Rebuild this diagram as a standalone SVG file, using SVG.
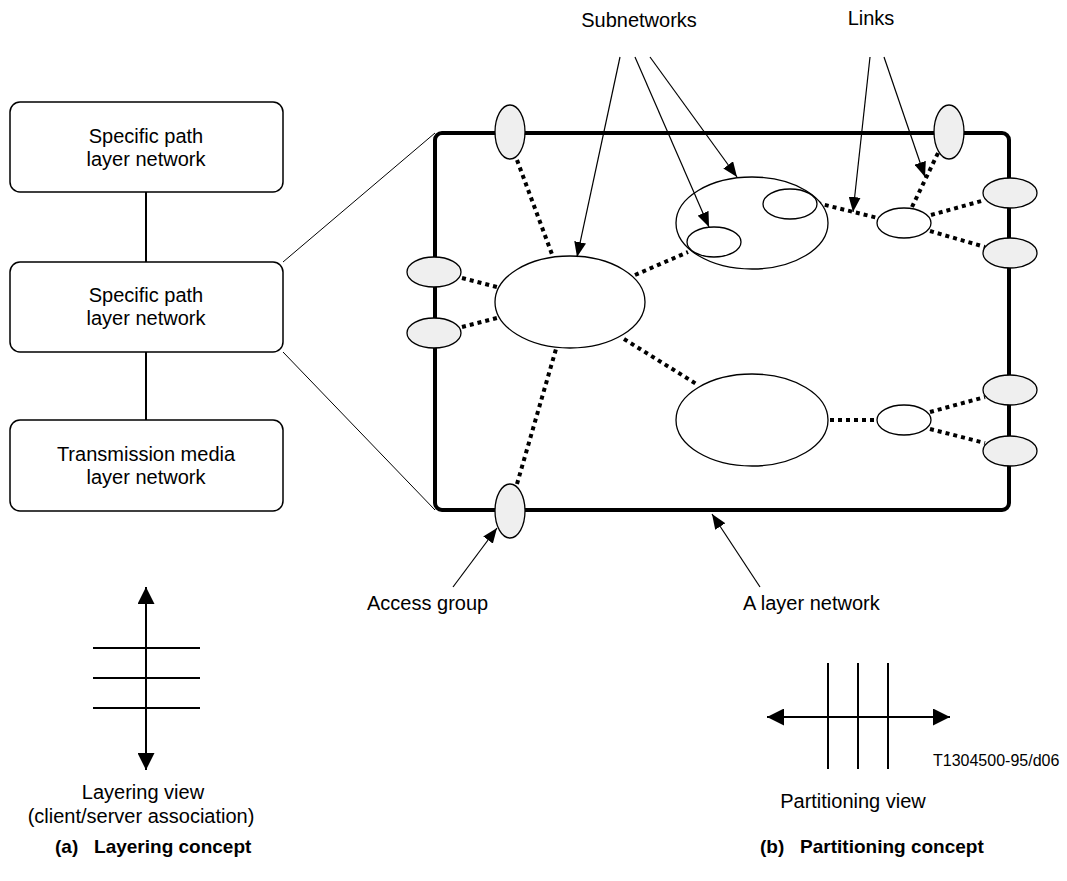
<svg xmlns="http://www.w3.org/2000/svg" width="1067" height="881" viewBox="0 0 1067 881">
<defs>
<style>
text{font-family:"Liberation Sans",Arial,sans-serif;font-size:20px;fill:#000}
.c{text-anchor:middle}
.b{font-weight:bold;font-size:19px}
.box{fill:#fff;stroke:#000;stroke-width:1.5}
.thin{stroke:#000;stroke-width:1;fill:none}
.ln{stroke:#000;stroke-width:2;fill:none}
.dot{stroke:#000;stroke-width:4;stroke-dasharray:4 4;fill:none}
.sub{fill:#fff;stroke:#000;stroke-width:1.3}
.acc{fill:#efefef;stroke:#000;stroke-width:1.3}
.arr{stroke:#000;stroke-width:1.2;fill:none;marker-end:url(#ah)}
.dbl{stroke:#000;stroke-width:2;fill:none;marker-start:url(#bh);marker-end:url(#bh)}
</style>
<marker id="ah" markerUnits="userSpaceOnUse" markerWidth="15" markerHeight="12" refX="15" refY="6" orient="auto">
<path d="M0,0 L15,6 L0,12 z" fill="#000"/>
</marker>
<marker id="bh" markerUnits="userSpaceOnUse" markerWidth="17" markerHeight="17" refX="17" refY="8.5" orient="auto-start-reverse">
<path d="M0,0 L17,8.5 L0,17 z" fill="#000"/>
</marker>
</defs>

<g id="layer-box-1"><rect class="box" x="10" y="102" width="273" height="90" rx="10"/><text class="c" x="146" y="143">Specific path</text><text class="c" x="146" y="166">layer network</text></g>
<g id="layer-box-2"><rect class="box" x="10" y="262" width="273" height="90" rx="10"/><text class="c" x="146" y="302">Specific path</text><text class="c" x="146" y="325">layer network</text></g>
<g id="layer-box-3"><rect class="box" x="10" y="420" width="273" height="91" rx="10"/><text class="c" x="146" y="461">Transmission media</text><text class="c" x="146" y="484">layer network</text></g>

<g id="connectors">
<line class="ln" x1="146" y1="192" x2="146" y2="262"/>
<line class="ln" x1="146" y1="352" x2="146" y2="420"/>
<line class="thin" x1="283" y1="262" x2="435" y2="133"/>
<line class="thin" x1="283" y1="352" x2="435" y2="510"/>
</g>

<g id="layer-network"><rect x="435" y="133" width="574" height="377" rx="7" fill="none" stroke="#000" stroke-width="4"/></g>

<g id="links">
<line class="dot" x1="517" y1="160" x2="553" y2="257"/>
<line class="dot" x1="462" y1="278" x2="497" y2="287"/>
<line class="dot" x1="462" y1="327" x2="497" y2="318"/>
<line class="dot" x1="517" y1="484" x2="556" y2="349"/>
<line class="dot" x1="635" y1="275" x2="688" y2="252"/>
<line class="dot" x1="738" y1="232" x2="767" y2="213"/>
<line class="dot" x1="817" y1="203" x2="878" y2="218"/>
<line class="dot" x1="938" y1="153" x2="912" y2="207"/>
<line class="dot" x1="931" y1="215" x2="985" y2="200"/>
<line class="dot" x1="930" y1="231" x2="985" y2="247"/>
<line class="dot" x1="624" y1="339" x2="698" y2="385"/>
<line class="dot" x1="830" y1="420" x2="877" y2="420"/>
<line class="dot" x1="930" y1="412" x2="985" y2="397"/>
<line class="dot" x1="930" y1="429" x2="985" y2="443"/>
</g>

<g id="subnetworks">
<ellipse class="sub" cx="570" cy="302" rx="75" ry="46"/>
<ellipse class="sub" cx="752" cy="223" rx="76" ry="46"/>
<ellipse class="sub" cx="714" cy="242" rx="27" ry="15"/>
<ellipse class="sub" cx="790" cy="204" rx="27" ry="15"/>
<ellipse class="sub" cx="752" cy="420" rx="76" ry="46"/>
<ellipse class="sub" cx="904" cy="223" rx="27" ry="15"/>
<ellipse class="sub" cx="904" cy="420" rx="27" ry="15"/>
</g>

<g id="access-groups">
<ellipse class="acc" cx="510" cy="132" rx="15" ry="27"/>
<ellipse class="acc" cx="949" cy="132" rx="15" ry="27"/>
<ellipse class="acc" cx="434" cy="272" rx="27" ry="15"/>
<ellipse class="acc" cx="434" cy="333" rx="27" ry="15"/>
<ellipse class="acc" cx="510" cy="511" rx="15" ry="27"/>
<ellipse class="acc" cx="1010" cy="193" rx="27" ry="15"/>
<ellipse class="acc" cx="1010" cy="253" rx="27" ry="15"/>
<ellipse class="acc" cx="1010" cy="390" rx="27" ry="15"/>
<ellipse class="acc" cx="1010" cy="451" rx="27" ry="15"/>
</g>

<g id="callouts">
<line class="arr" x1="620" y1="57" x2="577" y2="257"/>
<line class="arr" x1="635" y1="57" x2="709" y2="227"/>
<line class="arr" x1="650" y1="57" x2="737" y2="177"/>
<line class="arr" x1="870" y1="57" x2="853" y2="212"/>
<line class="arr" x1="884" y1="57" x2="925" y2="177"/>
<line class="arr" x1="453" y1="587" x2="497" y2="528"/>
<line class="arr" x1="760" y1="587" x2="712" y2="514"/>
</g>

<g id="labels">
<text class="c" x="639" y="27">Subnetworks</text>
<text class="c" x="871" y="25">Links</text>
<text x="367" y="610">Access group</text>
<text x="743" y="610">A layer network</text>
</g>

<g id="layering-view">
<line class="dbl" x1="146" y1="770" x2="146" y2="587"/>
<line class="ln" x1="93" y1="648" x2="200" y2="648"/>
<line class="ln" x1="93" y1="678" x2="200" y2="678"/>
<line class="ln" x1="93" y1="708" x2="200" y2="708"/>
<text class="c" x="143" y="799">Layering view</text>
<text class="c" x="141" y="823">(client/server association)</text>
<text class="b" x="55" y="853" xml:space="preserve">(a)   Layering concept</text>
</g>

<g id="partitioning-view">
<line class="dbl" x1="767" y1="717" x2="950" y2="717"/>
<line class="ln" x1="828" y1="663" x2="828" y2="769"/>
<line class="ln" x1="858" y1="663" x2="858" y2="769"/>
<line class="ln" x1="888" y1="663" x2="888" y2="769"/>
<text x="933" y="766" style="font-size:16px">T1304500-95/d06</text>
<text class="c" x="853" y="808">Partitioning view</text>
<text class="b" x="760" y="853" xml:space="preserve">(b)   Partitioning concept</text>
</g>
</svg>
